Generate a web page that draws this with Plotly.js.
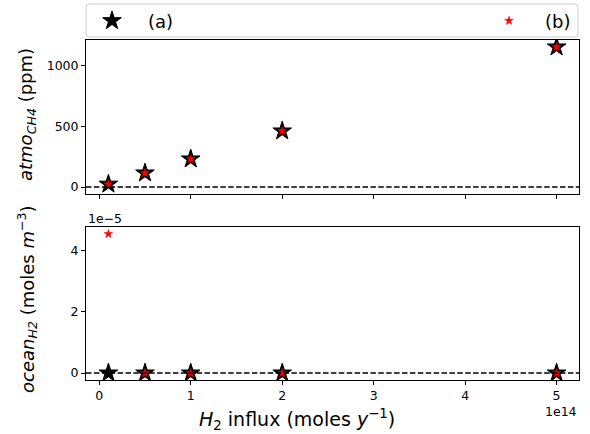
<!DOCTYPE html>
<html>
<head>
<meta charset="utf-8">
<script src="https://cdn.plot.ly/plotly-3.0.1.min.js"></script>
<style>html,body{margin:0;padding:0;background:#fff;}#chart{width:590px;height:434px;}</style>
</head>
<body>
<div id="chart"></div>
<script>
// ---- data ----
var influx = [1e13, 5e13, 1e14, 2e14, 5e14];
var atmoA = [23, 115, 230, 460, 1150];
var atmoB = [23, 115, 230, 460, 1150];
var oceanA = [0, 0, 0, 0, 0];
var oceanB = [4.54e-5, 0, 0, 0, 0];
var seriesNames = ['(a)', '(b)'];
var xTickVals = [0, 1e14, 2e14, 3e14, 4e14, 5e14];
var xTickText = ['0', '1', '2', '3', '4', '5'];
var yTopTickVals = [0, 500, 1000];
var yTopTickText = ['0', '500', '1000'];
var yBotTickVals = [0, 2e-5, 4e-5];
var yBotTickText = ['0', '2', '4'];

// ---- layout constants ----
var W = 590, H = 434, ML = 86, MR = 11, MT = 40, MB = 54;
var PW = W - ML - MR, PH = H - MT - MB;
function px(x) { return (x - ML) / PW; }
function py(y) { return (MT + PH - y) / PH; }
var FONT = 'DejaVu Sans, sans-serif';

var big = {symbol: 'star', size: 14, color: '#000', line: {color: '#000', width: 1}};
var small = {symbol: 'star', size: 6.5, color: '#ff0000', line: {color: '#ff0000', width: 0.5}};

var traces = [
  {x: influx, y: atmoA, xaxis: 'x', yaxis: 'y', mode: 'markers', marker: big, name: seriesNames[0], legend: 'legend'},
  {x: influx, y: atmoB, xaxis: 'x', yaxis: 'y', mode: 'markers', marker: small, name: seriesNames[1], legend: 'legend2'},
  {x: influx, y: oceanA, xaxis: 'x2', yaxis: 'y2', mode: 'markers', marker: big, showlegend: false},
  {x: influx, y: oceanB, xaxis: 'x2', yaxis: 'y2', mode: 'markers', marker: small, showlegend: false}
];

var xr = [-0.145e14, 5.245e14];
var axisCommon = {
  showline: true, mirror: true, linecolor: '#000', linewidth: 1,
  ticks: 'outside', ticklen: 4, tickwidth: 1, tickcolor: '#000',
  showgrid: false, zeroline: false, automargin: false,
  tickfont: {family: FONT, size: 12.5, color: '#000'}
};
function ax(extra) { return Object.assign({}, axisCommon, extra); }

var topY0 = py(194);
var botY1 = py(227);

function roundRect(x0, y0, x1, y1, r) {
  var p = function (x, y) { return px(x) + ',' + py(y); };
  return 'M' + p(x0 + r, y0) + ' L' + p(x1 - r, y0) + ' Q' + p(x1, y0) + ' ' + p(x1, y0 + r) +
    ' L' + p(x1, y1 - r) + ' Q' + p(x1, y1) + ' ' + p(x1 - r, y1) +
    ' L' + p(x0 + r, y1) + ' Q' + p(x0, y1) + ' ' + p(x0, y1 - r) +
    ' L' + p(x0, y0 + r) + ' Q' + p(x0, y0) + ' ' + p(x0 + r, y0) + ' Z';
}

function legendAt(leftPx) {
  return {
    orientation: 'h', xref: 'container', yref: 'container',
    x: leftPx / W, xanchor: 'left', y: 1 - 21 / H, yanchor: 'middle',
    bgcolor: 'rgba(0,0,0,0)', borderwidth: 0,
    font: {family: FONT, size: 18, color: '#000'},
    itemsizing: 'trace', itemwidth: 62
  };
}

var layout = {
  width: W, height: H,
  margin: {l: ML, r: MR, t: MT, b: MB, pad: 0, autoexpand: false},
  paper_bgcolor: '#fff', plot_bgcolor: '#fff',
  font: {family: FONT, color: '#000'},
  showlegend: true,
  legend: legendAt(76),
  legend2: legendAt(473),
  xaxis: ax({domain: [0, 1], range: xr, anchor: 'y', tickvals: xTickVals, ticktext: xTickText, showticklabels: false}),
  yaxis: ax({domain: [topY0, 1], range: [-57.5, 1207.5], anchor: 'x', tickvals: yTopTickVals, ticktext: yTopTickText}),
  xaxis2: ax({domain: [0, 1], range: xr, anchor: 'y2', tickvals: xTickVals, ticktext: xTickText}),
  yaxis2: ax({domain: [0, botY1], range: [-0.227e-5, 4.767e-5], anchor: 'x2', tickvals: yBotTickVals, ticktext: yBotTickText}),
  shapes: [
    {type: 'line', xref: 'x domain', yref: 'y', x0: 0, x1: 1, y0: 0, y1: 0, layer: 'above',
     line: {color: '#000', width: 1.5, dash: '5.5px,2.4px'}},
    {type: 'line', xref: 'x2 domain', yref: 'y2', x0: 0, x1: 1, y0: 0, y1: 0, layer: 'above',
     line: {color: '#000', width: 1.5, dash: '5.5px,2.4px'}},
    {type: 'path', xref: 'paper', yref: 'paper', path: roundRect(86, 4, 578, 37, 3),
     line: {color: '#cccccc', width: 1}, fillcolor: 'rgba(255,255,255,0.8)', layer: 'below'}
  ],
  annotations: [
    {xref: 'paper', yref: 'paper', x: px(27), y: py(115), text: '<i>atmo</i><sub><i>CH</i><i>4</i></sub> (ppm)',
     textangle: -90, showarrow: false, xanchor: 'center', yanchor: 'middle', font: {family: FONT, size: 18}},
    {xref: 'paper', yref: 'paper', x: px(27), y: py(299), text: '<i>ocean</i><sub><i>H</i><i>2</i></sub> (moles <i>m</i><sup>−3</sup>)',
     textangle: -90, showarrow: false, xanchor: 'center', yanchor: 'middle', font: {family: FONT, size: 18}},
    {xref: 'paper', yref: 'paper', x: px(297), y: py(419), text: '<i>H</i><sub>2</sub> influx (moles <i>y</i><sup>−1</sup>)',
     showarrow: false, xanchor: 'center', yanchor: 'middle', font: {family: FONT, size: 19}},
    {xref: 'paper', yref: 'paper', x: px(86), y: py(228), text: '1e−5', showarrow: false,
     xanchor: 'left', yanchor: 'bottom', font: {family: FONT, size: 12.5}},
    {xref: 'paper', yref: 'paper', x: px(579), y: py(402), text: '1e14', showarrow: false,
     xanchor: 'right', yanchor: 'top', font: {family: FONT, size: 12.5}}
  ]
};

Plotly.newPlot('chart', traces, layout, {displayModeBar: false, staticPlot: true});
</script>
</body>
</html>
